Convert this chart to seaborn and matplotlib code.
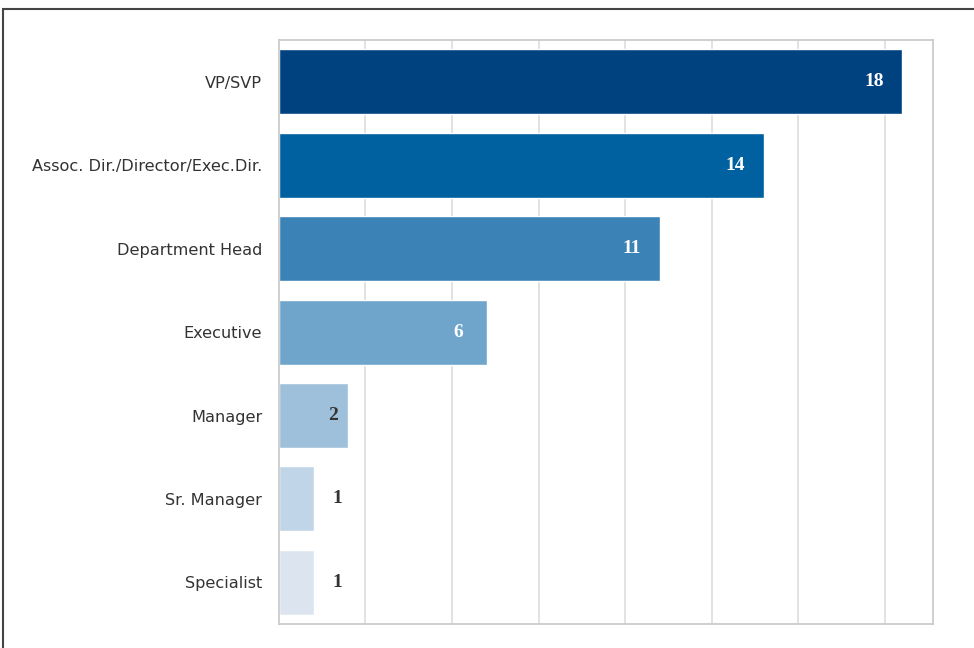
import matplotlib
matplotlib.use("Agg")
import matplotlib.pyplot as plt
import seaborn as sns
import pandas as pd
from matplotlib.patches import Rectangle

roles = ["VP/SVP", "Assoc. Dir./Director/Exec.Dir.", "Department Head",
         "Executive", "Manager", "Sr. Manager", "Specialist"]
counts = [18, 14, 11, 6, 2, 1, 1]
bar_colors = ["#00417f", "#0061a0", "#3b83b7", "#6fa5cb", "#9ec0da", "#c1d5e8", "#dce5ef"]

df = pd.DataFrame({"role": roles, "count": counts})

sns.set_theme(style="whitegrid")
plt.rcParams["font.family"] = ["DejaVu Sans"]

fig = plt.figure(figsize=(9.74, 6.48), dpi=100)
ax = fig.add_axes([0.2864, 0.037, 0.6716, 0.901])

sns.barplot(data=df, y="role", x="count", hue="role", palette=bar_colors,
            legend=False, ax=ax, width=0.78, saturation=1)

ax.set_xlabel("")
ax.set_ylabel("")
ax.set_xticks([2.5 * i for i in range(1, 8)])
ax.set_xticklabels([])
ax.set_xlim(0, 18.9)
ax.tick_params(axis="y", labelsize=11.6, labelcolor="#333333", pad=6)
ax.tick_params(axis="x", length=0)
ax.grid(axis="x", color="#dddddd", linewidth=1.2)
ax.grid(axis="y", visible=False)
for s in ax.spines.values():
    s.set_color("#cccccc")
    s.set_linewidth(1.3)

# value labels: inside the bar end for wider bars, beside it for the narrowest
for i, v in enumerate(counts):
    if v >= 6:
        dx, color = -28, "white"
    elif v >= 2:
        dx, color = -15, "#333333"
    else:
        dx, color = 24, "#333333"
    ax.annotate(str(v), xy=(v, i), xytext=(dx, 0), textcoords="offset pixels",
                ha="center", va="center", fontsize=14, fontweight="bold",
                family="Liberation Serif", color=color)

# outer frame around the figure
fig.patches.append(Rectangle((0.003, -0.05), 1.2, 0.036 + 0.95 + 0.05,
                             transform=fig.transFigure, fill=False,
                             edgecolor="#444444", linewidth=1.5))

fig.savefig("out.png", dpi=100)
